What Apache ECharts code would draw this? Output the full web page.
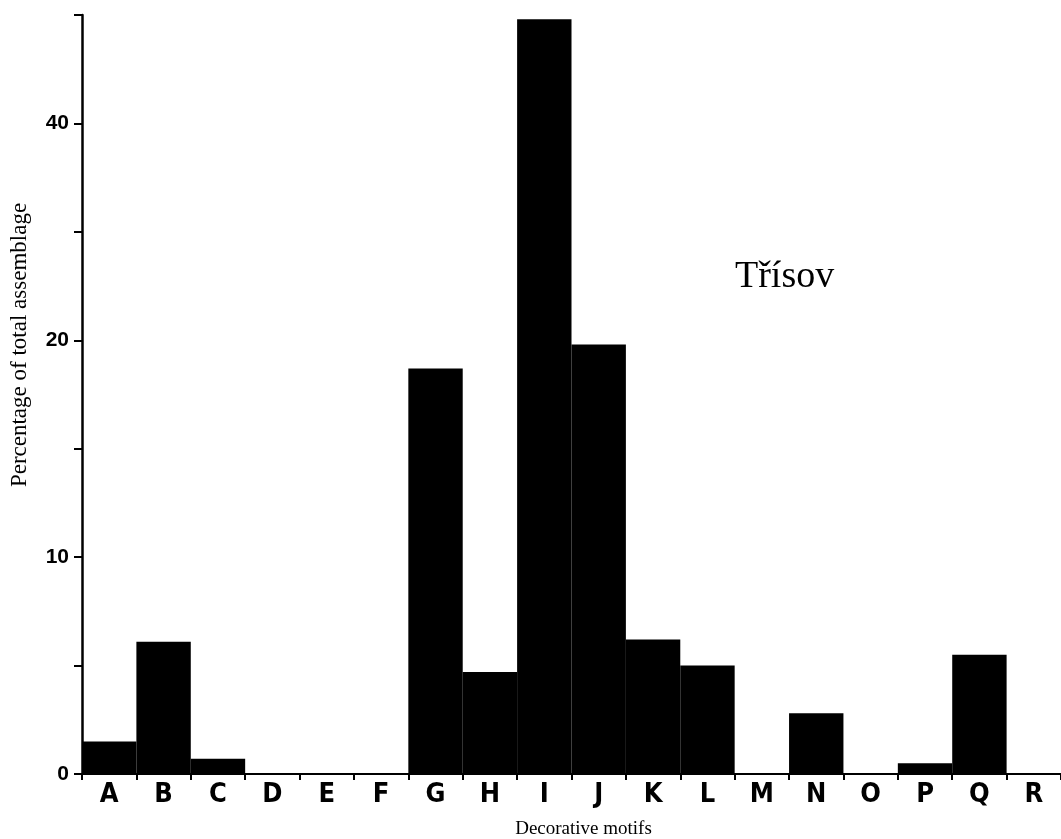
<!DOCTYPE html>
<html>
<head>
<meta charset="utf-8">
<script src="https://cdn.jsdelivr.net/npm/echarts@6/dist/echarts.min.js"></script>
<style>
html,body{margin:0;padding:0;background:#fff;}
#chart{width:1061px;height:839px;}
</style>
</head>
<body>
<div id="chart"></div>
<script>
const categories = ['A','B','C','D','E','F','G','H','I','J','K','L','M','N','O','P','Q','R'];
const percentages = [1.5, 6.1, 0.7, 0, 0, 0, 18.7, 4.7, 49.6, 19.8, 6.2, 5.0, 0, 2.8, 0, 0.5, 5.5, 0];
const yTickValues = [0, 10, 20, 40];
const siteName = 'Třísov';
const xTitle = 'Decorative motifs';
const yTitle = 'Percentage of total assemblage';

// The original axis is piecewise: 0–10–20 at equal steps, then 20–40 in one step.
function toAxis(v) {
  return v <= 20 ? v / 10 : 2 + (v - 20) / 20;
}
const yTickPositions = yTickValues.map(toAxis);

const chart = echarts.init(document.getElementById('chart'));
chart.setOption({
  animation: false,
  backgroundColor: '#fff',
  grid: { left: 82, right: 0, top: 15, bottom: 65, outerBoundsMode: 'none', containLabel: false },
  xAxis: {
    type: 'category',
    data: categories,
    boundaryGap: true,
    name: xTitle,
    nameLocation: 'middle',
    nameGap: 46,
    nameTextStyle: { fontFamily: 'Liberation Serif', fontSize: 19, color: '#000', padding: [0, 0, 0, 24] },
    axisLine: { show: true, lineStyle: { color: '#000', width: 2 } },
    axisTick: { show: true, length: 6, interval: 0, lineStyle: { color: '#000', width: 2 } },
    axisLabel: {
      interval: 0, margin: 7,
      fontFamily: '"Liberation Sans Narrow", "DejaVu Sans Condensed"', fontWeight: 'bold', fontSize: 27, color: '#000'
    }
  },
  yAxis: {
    type: 'value',
    min: 0, max: 3.5, interval: 0.5,
    splitLine: { show: false },
    axisLine: { show: true, lineStyle: { color: '#000', width: 2.5 } },
    axisTick: { show: true, length: 8, lineStyle: { color: '#000', width: 2 } },
    axisLabel: {
      margin: 13,
      fontFamily: 'Liberation Sans', fontWeight: 'bold', fontSize: 21, color: '#000',
      formatter: function (v) {
        const i = yTickPositions.findIndex(p => Math.abs(p - v) < 1e-6);
        return i >= 0 ? String(yTickValues[i]) : '';
      }
    }
  },
  series: [{
    type: 'bar',
    data: percentages.map(toAxis),
    barCategoryGap: '0%',
    itemStyle: { color: '#000' },
    silent: true
  }],
  graphic: [{
    type: 'text',
    left: 735, top: 258,
    style: { text: siteName, font: '38px "Liberation Serif"', fill: '#000' }
  }, {
    type: 'text',
    x: 20, y: 345,
    rotation: Math.PI / 2,
    style: { text: yTitle, font: '23px "Liberation Serif"', fill: '#000', align: 'center', verticalAlign: 'middle' }
  }]
});
</script>
</body>
</html>
